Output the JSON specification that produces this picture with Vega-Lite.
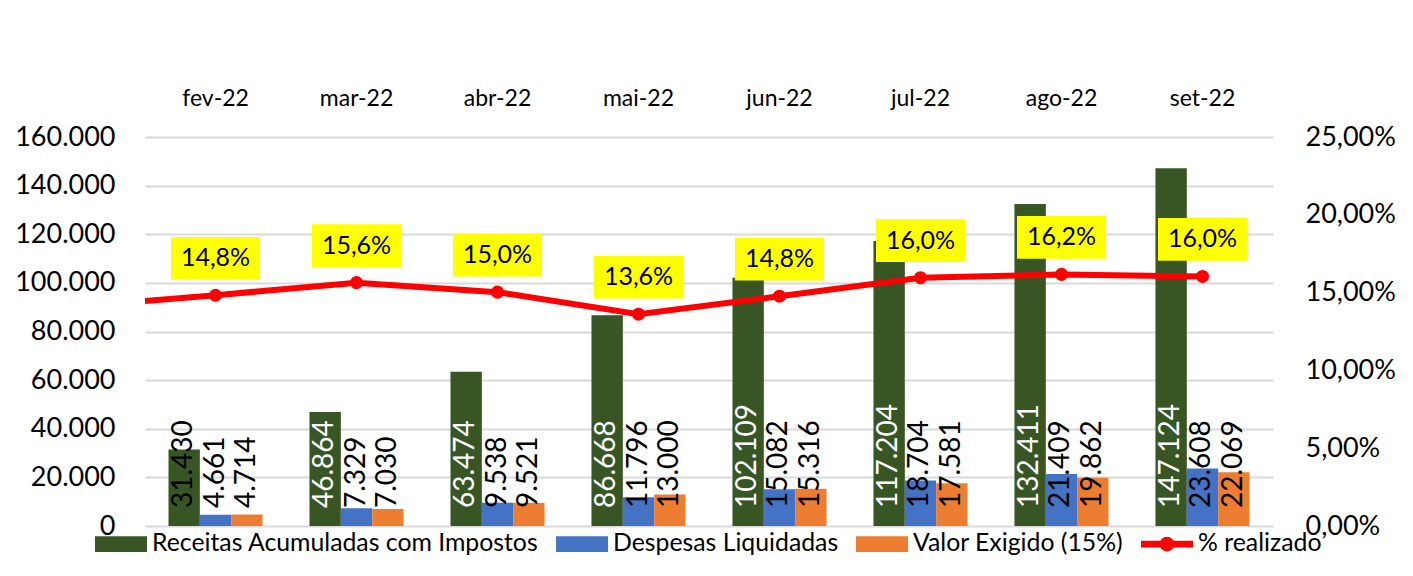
{
  "$schema": "https://vega.github.io/schema/vega-lite/v6.json",
  "width": 1128,
  "height": 389,
  "autosize": "none",
  "padding": {"left": 145, "top": 137, "right": 140, "bottom": 50},
  "background": "white",
  "config": {
    "locale": {"number": {"decimal": ",", "thousands": ".", "grouping": [3], "currency": ["R$", ""]}},
    "font": "Lato",
    "view": {"stroke": null},
    "axis": {"labelColor": "#000000", "labelFont": "Lato"},
    "legend": {"labelFont": "Lato"}
  },
  "datasets": {
    "bars": [
      {"mes": "fev-22", "serie": "Receitas Acumuladas com Impostos", "valor": 31430},
      {"mes": "fev-22", "serie": "Despesas Liquidadas", "valor": 4661},
      {"mes": "fev-22", "serie": "Valor Exigido (15%)", "valor": 4714},
      {"mes": "mar-22", "serie": "Receitas Acumuladas com Impostos", "valor": 46864},
      {"mes": "mar-22", "serie": "Despesas Liquidadas", "valor": 7329},
      {"mes": "mar-22", "serie": "Valor Exigido (15%)", "valor": 7030},
      {"mes": "abr-22", "serie": "Receitas Acumuladas com Impostos", "valor": 63474},
      {"mes": "abr-22", "serie": "Despesas Liquidadas", "valor": 9538},
      {"mes": "abr-22", "serie": "Valor Exigido (15%)", "valor": 9521},
      {"mes": "mai-22", "serie": "Receitas Acumuladas com Impostos", "valor": 86668},
      {"mes": "mai-22", "serie": "Despesas Liquidadas", "valor": 11796},
      {"mes": "mai-22", "serie": "Valor Exigido (15%)", "valor": 13000},
      {"mes": "jun-22", "serie": "Receitas Acumuladas com Impostos", "valor": 102109},
      {"mes": "jun-22", "serie": "Despesas Liquidadas", "valor": 15082},
      {"mes": "jun-22", "serie": "Valor Exigido (15%)", "valor": 15316},
      {"mes": "jul-22", "serie": "Receitas Acumuladas com Impostos", "valor": 117204},
      {"mes": "jul-22", "serie": "Despesas Liquidadas", "valor": 18704},
      {"mes": "jul-22", "serie": "Valor Exigido (15%)", "valor": 17581},
      {"mes": "ago-22", "serie": "Receitas Acumuladas com Impostos", "valor": 132411},
      {"mes": "ago-22", "serie": "Despesas Liquidadas", "valor": 21409},
      {"mes": "ago-22", "serie": "Valor Exigido (15%)", "valor": 19862},
      {"mes": "set-22", "serie": "Receitas Acumuladas com Impostos", "valor": 147124},
      {"mes": "set-22", "serie": "Despesas Liquidadas", "valor": 23608},
      {"mes": "set-22", "serie": "Valor Exigido (15%)", "valor": 22069}
    ],
    "pct": [
      {"mes": "jan-22", "pct": 0.141},
      {"mes": "fev-22", "pct": 0.1483},
      {"mes": "mar-22", "pct": 0.1564},
      {"mes": "abr-22", "pct": 0.1503},
      {"mes": "mai-22", "pct": 0.1361},
      {"mes": "jun-22", "pct": 0.1477},
      {"mes": "jul-22", "pct": 0.1596},
      {"mes": "ago-22", "pct": 0.1617},
      {"mes": "set-22", "pct": 0.1604}
    ]
  },
  "layer": [
    {
      "data": {"name": "bars"},
      "encoding": {
        "x": {
          "field": "mes", "type": "nominal",
          "scale": {"domain": ["fev-22", "mar-22", "abr-22", "mai-22", "jun-22", "jul-22", "ago-22", "set-22"], "paddingInner": 0.333, "paddingOuter": 0.1667},
          "axis": {"orient": "top", "title": null, "ticks": false, "domain": false, "labelAngle": 0, "labelFontSize": 23, "labelPadding": 27, "labelColor": "#000000"}
        },
        "xOffset": {
          "field": "serie", "type": "nominal",
          "scale": {"domain": ["Receitas Acumuladas com Impostos", "Despesas Liquidadas", "Valor Exigido (15%)"], "paddingInner": 0, "paddingOuter": 0}
        },
        "y": {
          "field": "valor", "type": "quantitative",
          "scale": {"domain": [0, 160000]},
          "axis": {"orient": "left", "title": null, "values": [0, 20000, 40000, 60000, 80000, 100000, 120000, 140000, 160000], "format": ",.0f", "ticks": false, "domain": false, "grid": true, "gridColor": "#d9d9d9", "gridWidth": 2, "labelFontSize": 27, "labelPadding": 30, "labelColor": "#000000"}
        }
      },
      "layer": [
        {
          "mark": {"type": "bar"},
          "encoding": {
            "color": {
              "field": "serie", "type": "nominal",
              "scale": {"domain": ["Receitas Acumuladas com Impostos", "Despesas Liquidadas", "Valor Exigido (15%)", "% realizado"], "range": ["#375623", "#4472C4", "#ED7D31", "#FF0000"]},
              "legend": {
                "orient": "none", "legendX": -50, "legendY": 381, "direction": "horizontal", "title": null,
                "labelFontSize": 24.8, "labelColor": "#000000", "labelLimit": 0, "symbolSize": 2704, "columnPadding": 17, "labelOffset": 5, "padding": 0,
                "symbolStrokeWidth": 0,
                "encode": {
                  "symbols": {
                    "update": {
                      "shape": {"signal": "datum.value === '% realizado' ? 'M-1,-0.13H1V0.13H-1Z M-0.28,0A0.28,0.28 0 1,1 0.28,0A0.28,0.28 0 1,1 -0.28,0Z' : 'M-1,-0.3H1V0.3H-1Z'"},
                      "fill": {"signal": "scale('color', datum.value)"},
                      "opacity": {"value": 1},
                      "strokeWidth": {"value": 0}
                    }
                  }
                }
              }
            }
          }
        },
        {
          "mark": {"type": "text", "angle": 270, "align": "left", "baseline": "middle", "dx": 18, "fontSize": 28},
          "encoding": {
            "y": {"datum": 0},
            "text": {"field": "valor", "type": "quantitative", "format": ",.0f"},
            "fill": {"condition": {"test": "datum.serie === 'Receitas Acumuladas com Impostos' && datum.valor > 40000", "value": "#ffffff"}, "value": "#000000"}
          }
        }
      ]
    },
    {
      "data": {"name": "pct"},
      "encoding": {
        "x": {
          "field": "mes", "type": "nominal",
          "scale": {"type": "point", "domain": ["jan-22", "fev-22", "mar-22", "abr-22", "mai-22", "jun-22", "jul-22", "ago-22", "set-22"], "padding": 0, "range": [-70.5, 1057.5]},
          "axis": null
        },
        "y": {
          "field": "pct", "type": "quantitative",
          "scale": {"domain": [0, 0.25]},
          "axis": {"orient": "right", "title": null, "values": [0, 0.05, 0.1, 0.15, 0.2, 0.25], "format": ".2%", "ticks": false, "domain": false, "grid": false, "labelFontSize": 27, "labelPadding": 32, "labelColor": "#000000"}
        }
      },
      "layer": [
        {
          "mark": {"type": "line", "strokeWidth": 6, "clip": true},
          "encoding": {"color": {"datum": "% realizado"}}
        },
        {
          "transform": [{"filter": "datum.mes !== 'jan-22'"}],
          "mark": {"type": "point", "filled": true, "size": 170, "opacity": 1},
          "encoding": {"color": {"datum": "% realizado"}}
        },
        {
          "transform": [{"filter": "datum.mes !== 'jan-22'"}],
          "mark": {"type": "point", "shape": "M-1,-0.48H1V0.48H-1Z", "size": 7921, "filled": true, "fill": "#FFFF00", "opacity": 1, "strokeWidth": 0, "yOffset": -37}
        },
        {
          "transform": [{"filter": "datum.mes !== 'jan-22'"}],
          "mark": {"type": "text", "fontSize": 25, "dy": -37, "baseline": "middle", "align": "center", "color": "#000000"},
          "encoding": {"text": {"field": "pct", "type": "quantitative", "format": ".1%"}}
        }
      ]
    }
  ],
  "resolve": {"scale": {"x": "independent", "y": "independent"}}
}
